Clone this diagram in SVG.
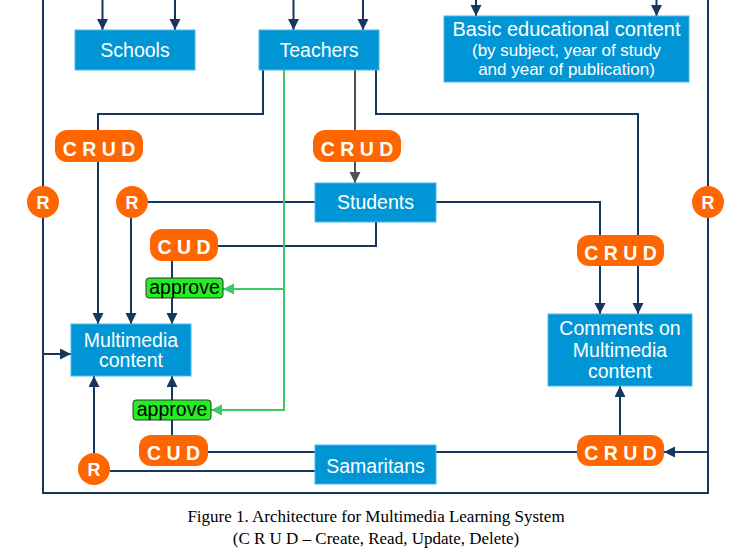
<svg xmlns="http://www.w3.org/2000/svg" width="752" height="555" viewBox="0 0 752 555">
<defs>
<marker id="an" markerUnits="userSpaceOnUse" markerWidth="12" markerHeight="12" refX="11" refY="5.5" orient="auto"><path d="M0,0 L11,5.5 L0,11 z" fill="#17375E"/></marker>
<marker id="ag" markerUnits="userSpaceOnUse" markerWidth="12" markerHeight="12" refX="11" refY="5.5" orient="auto"><path d="M0,0 L11,5.5 L0,11 z" fill="#505050"/></marker>
<marker id="agr" markerUnits="userSpaceOnUse" markerWidth="12" markerHeight="12" refX="11" refY="5.5" orient="auto"><path d="M0,0 L11,5.5 L0,11 z" fill="#3CC864"/></marker>
<style>
.box{fill:#0096D6;stroke:#4DB8E8;stroke-width:1}
.bt{fill:#fff;font-family:"Liberation Sans",Arial,sans-serif;font-size:19.5px;text-anchor:middle}
.pill{fill:#FF6600}
.pt{fill:#fff;font-family:"Liberation Sans",Arial,sans-serif;font-size:19.5px;font-weight:bold;text-anchor:middle}
.rt{fill:#fff;font-family:"Liberation Sans",Arial,sans-serif;font-size:18px;font-weight:bold;text-anchor:middle}
.ap{fill:#22EE22;stroke:#333;stroke-width:1}
.at{fill:#000;font-family:"Liberation Sans",Arial,sans-serif;font-size:19.5px;text-anchor:middle}
.ln{fill:none;stroke:#17375E;stroke-width:2}
.lnA{fill:none;stroke:#17375E;stroke-width:2;marker-end:url(#an)}
.gr{fill:none;stroke:#505050;stroke-width:2}
.grA{fill:none;stroke:#505050;stroke-width:2;marker-end:url(#ag)}
.gn{fill:none;stroke:#3CC864;stroke-width:2}
.gnA{fill:none;stroke:#3CC864;stroke-width:2;marker-end:url(#agr)}
.cap{fill:#000;font-family:"Liberation Serif","Times New Roman",serif;font-size:17px;text-anchor:middle}
</style>
</defs>
<g id="connectors">
<path class="lnA" d="M102.5,0 V30"/>
<path class="lnA" d="M175,0 V30"/>
<path class="lnA" d="M293.5,0 V30"/>
<path class="lnA" d="M363,0 V30"/>
<path class="lnA" d="M476,0 V16"/>
<path class="lnA" d="M656.5,0 V16"/>
<path class="ln" d="M43,0 V493 H708 V0"/>
<path class="lnA" d="M43,354 H71"/>
<path class="lnA" d="M708,452 H664"/>
<path class="ln" d="M263,70 V114 H98 V130"/>
<path class="lnA" d="M98,162 V324"/>
<path class="gr" d="M355,70 V130"/>
<path class="grA" d="M355,162 V183"/>
<path class="ln" d="M376,70 V114 H638 V235"/>
<path class="lnA" d="M638,266 V314"/>
<path class="ln" d="M436,202 H600 V235"/>
<path class="lnA" d="M600,266 V314"/>
<path class="ln" d="M315,202 H148"/>
<path class="lnA" d="M131,218 V324"/>
<path class="ln" d="M376,222 V246 H218"/>
<path class="ln" d="M172,261 V278"/>
<path class="lnA" d="M172,298 V324"/>
<path class="gnA" d="M284,70 V410 H211"/>
<path class="gnA" d="M284,289 H223"/>
<path class="ln" d="M315,452 H208"/>
<path class="ln" d="M172,435 V420"/>
<path class="lnA" d="M172,400 V376"/>
<path class="ln" d="M315,471 H110"/>
<path class="lnA" d="M94,453 V376"/>
<path class="ln" d="M436,452 H577"/>
<path class="lnA" d="M620,435 V386"/>
</g>
<g id="schools"><rect class="box" x="75" y="30" width="120" height="40"/><text class="bt" x="135" y="57">Schools</text></g>
<g id="teachers"><rect class="box" x="259" y="30" width="120" height="40"/><text class="bt" x="319" y="57">Teachers</text></g>
<g id="basic-content"><rect class="box" x="444" y="16" width="245" height="66"/>
<text class="bt" x="566.5" y="36" style="font-size:20px">Basic educational content</text>
<text class="bt" x="566.5" y="56" style="font-size:17px">(by subject, year of study</text>
<text class="bt" x="566.5" y="75" style="font-size:17px">and year of publication)</text></g>
<g id="students"><rect class="box" x="315" y="183" width="121" height="39"/><text class="bt" x="375.5" y="209">Students</text></g>
<g id="multimedia"><rect class="box" x="71" y="324" width="120" height="52"/><text class="bt" x="131" y="347">Multimedia</text><text class="bt" x="131" y="367">content</text></g>
<g id="comments"><rect class="box" x="548" y="314" width="144" height="72"/><text class="bt" x="620" y="335">Comments on</text><text class="bt" x="620" y="356.5">Multimedia</text><text class="bt" x="620" y="377.5">content</text></g>
<g id="samaritans"><rect class="box" x="315" y="445" width="121" height="39"/><text class="bt" x="375.5" y="473">Samaritans</text></g>
<g id="crud-teachers-mm"><rect class="pill" x="55" y="130" width="88" height="32" rx="12"/><text class="pt" x="99" y="155.5">C R U D</text></g>
<g id="crud-teachers-students"><rect class="pill" x="313" y="130" width="88" height="32" rx="12"/><text class="pt" x="357" y="155.5">C R U D</text></g>
<g id="cud-students"><rect class="pill" x="150" y="229" width="68" height="32" rx="12"/><text class="pt" x="184" y="254">C U D</text></g>
<g id="crud-comments"><rect class="pill" x="577" y="235" width="87" height="31" rx="12"/><text class="pt" x="620.5" y="259.5">C R U D</text></g>
<g id="cud-samaritans"><rect class="pill" x="139" y="435" width="69" height="31" rx="12"/><text class="pt" x="173.5" y="459.5">C U D</text></g>
<g id="crud-samaritans"><rect class="pill" x="577" y="435" width="87" height="31" rx="12"/><text class="pt" x="620.5" y="459.5">C R U D</text></g>
<g id="r-left"><circle class="pill" cx="43" cy="202" r="16"/><text class="rt" x="43" y="208.5">R</text></g>
<g id="r-students"><circle class="pill" cx="132" cy="202" r="16"/><text class="rt" x="132" y="208.5">R</text></g>
<g id="r-right"><circle class="pill" cx="708" cy="202" r="16"/><text class="rt" x="708" y="208.5">R</text></g>
<g id="r-samaritans"><circle class="pill" cx="94" cy="469" r="16"/><text class="rt" x="94" y="475.5">R</text></g>
<g id="approve-1"><rect class="ap" x="146" y="278" width="77" height="20" rx="3"/><text class="at" x="184.5" y="293.5">approve</text></g>
<g id="approve-2"><rect class="ap" x="133" y="400" width="78" height="20" rx="3"/><text class="at" x="172" y="415.5">approve</text></g>
<g id="caption">
<text class="cap" x="376" y="522">Figure 1. Architecture for Multimedia Learning System</text>
<text class="cap" x="376" y="544">(C R U D – Create, Read, Update, Delete)</text>
</g>
</svg>
